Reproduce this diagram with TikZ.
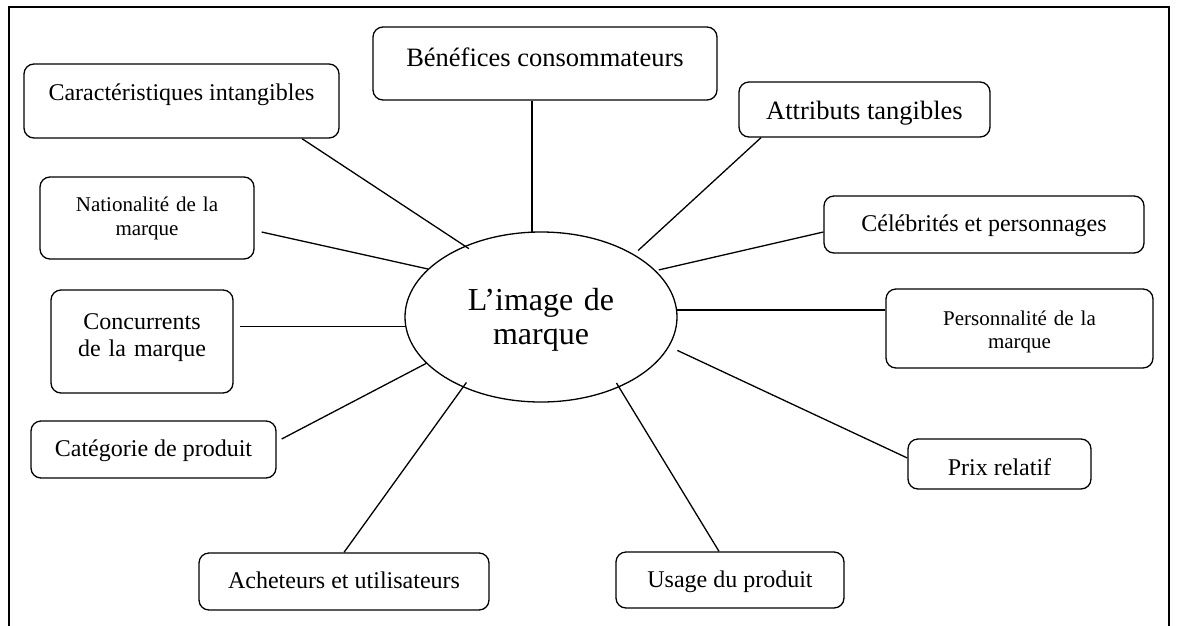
\documentclass[tikz,border=0pt]{standalone}
\usepackage{fontspec}
\setmainfont{Liberation Serif}
\usetikzlibrary{shapes.geometric}
\begin{document}
\begin{tikzpicture}[x=1pt,y=-1pt,
  box/.style={draw, rounded corners=10pt, line width=1.3pt, inner ysep=0pt},
  big/.style={font=\fontsize{26.5}{30}\selectfont},
  mid/.style={font=\fontsize{24}{27}\selectfont},
  small/.style={font=\fontsize{21}{23.5}\selectfont},
  link/.style={line width=1.3pt},
  frame/.style={line width=1.3pt}]
\useasboundingbox (0,0) rectangle (1179,625);
\clip (0,0) rectangle (1179,625);
% outer frame, open at the bottom of the page
\draw[frame] (9,7) rectangle (1169,660);

% central ellipse
\node[ellipse, draw, line width=1.3pt, inner sep=0pt, minimum width=272pt, minimum height=170pt,
      text width=160pt, align=center, text height=20pt, text depth=33pt,
      font=\fontsize{32}{34}\selectfont] (img) at (541,317) {L’image de\\marque};

% surrounding boxes
\node[box, big, minimum width=344pt, text height=39pt, text depth=34pt] (ben) at (545,63.5) {Bénéfices consommateurs};
\node[box, mid, minimum width=315pt, text height=36pt, text depth=38pt] (car) at (181.5,101) {Caractéristiques intangibles};
\node[box, big, minimum width=251pt, text height=37pt, text depth=18pt] (att) at (864.5,109.5) {Attributs tangibles};
\node[box, mid, minimum width=320pt, text height=35pt, text depth=22pt] (cel) at (984,224.5) {Célébrités et personnages};
\node[box, small, minimum width=267pt, text width=170pt, align=center, text height=36pt, text depth=43pt] (per) at (1019.5,328.5) {Personnalité de la\\marque};
\node[box, mid, minimum width=183pt, text height=36pt, text depth=14pt] (prix) at (999.5,464) {Prix relatif};
\node[box, mid, minimum width=228pt, text height=35pt, text depth=21pt] (usage) at (730,580) {Usage du produit};
\node[box, mid, minimum width=290pt, text height=35pt, text depth=22pt] (ach) at (344,581.5) {Acheteurs et utilisateurs};
\node[box, mid, minimum width=245pt, text height=35pt, text depth=22pt] (cat) at (153.5,449.5) {Catégorie de produit};
\node[box, mid, minimum width=182pt, text width=150pt, align=center, text height=39pt, text depth=64pt] (conc) at (142,341.5) {Concurrents\\de la marque};
\node[box, small, minimum width=214pt, text width=160pt, align=center, text height=34.5pt, text depth=47.5pt] (nat) at (147,218) {Nationalité de la\\marque};

% connectors to the central ellipse
\draw[link, shorten >=-5pt] ([xshift=120.5pt]car.south) -- (img.137.5);
\draw[link] (img.96.7 |- ben.south) -- (img.96.7);
\draw[link, shorten >=5.5pt] ([xshift=-103.5pt]att.south) -- (img.34.5);
\draw[link, shorten >=3pt] ([yshift=-7.5pt]cel.west) -- (img.22.5);
\draw[link] ([xshift=7pt,yshift=-14pt]nat.east) -- (img.157.2);
\draw[link] ([xshift=6pt]conc.east |- img.184.24) -- (img.184.24);
\draw[link] (img.3.8) -- (img.3.8 -| per.west);
\draw[link] ([xshift=5pt,yshift=10.5pt]cat.east) -- (img.202.65);
\draw[link, shorten >=-6pt] (ach.north) -- (img.222.5);
\draw[link, shorten >=-5pt] ([xshift=-11pt]usage.north) -- (img.318.65);
\draw[link, shorten >=9pt] ([yshift=6pt]prix.west) -- (img.347.65);
\end{tikzpicture}
\end{document}
